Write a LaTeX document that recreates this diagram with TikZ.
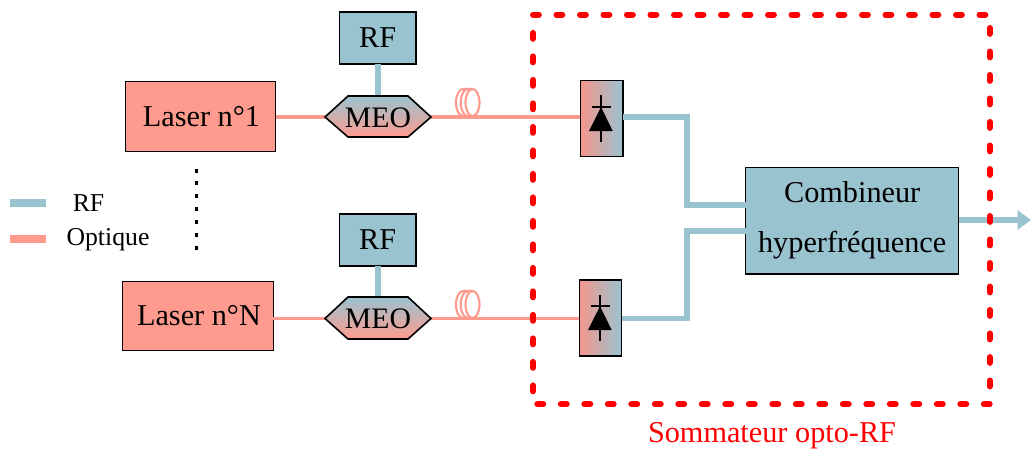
\documentclass[tikz,border=0pt]{standalone}
\usepackage{fontspec}
\setmainfont{Liberation Serif}
\usetikzlibrary{arrows.meta}
\definecolor{rfblue}{HTML}{9AC3D0}
\definecolor{optpink}{HTML}{FF9B8E}
\definecolor{grpink}{HTML}{F4968C}
\tikzset{
  x=0.75pt,y=-0.75pt,
  every node/.style={inner sep=0pt,outer sep=0pt},
  boxsty/.style={draw=black,line width=0.9pt,rectangle,text=black,font=\fontsize{22.7}{27}\selectfont},
  laserbox/.style={boxsty,fill=optpink,minimum width=113pt,minimum height=52pt},
  rfbox/.style={boxsty,fill=rfblue,minimum width=57.5pt,minimum height=39pt},
  combbox/.style={boxsty,fill=rfblue,minimum width=159.5pt,minimum height=80pt,align=center,font=\fontsize{22.7}{37.5}\selectfont},
  pdbox/.style={draw=black,line width=0.9pt,rectangle,left color=grpink,right color=rfblue,minimum width=32pt,minimum height=57pt},
  rfline/.style={draw=rfblue,line width=4pt},
  optline/.style={draw=optpink,line width=2.4pt},
  hexsty/.style={draw=black,line width=1.2pt,top color=rfblue,bottom color=optpink,middle color=rfblue!50!optpink,shading angle=0},
  meotext/.style={font=\fontsize{22.3}{26}\selectfont},
  coil/.style={draw=optpink,line width=1.6pt},
  diodeline/.style={draw=black,line width=1.3pt},
  legendtext/.style={font=\fontsize{19.3}{23}\selectfont},
  redside/.style={draw=red,line width=4.5pt,line cap=round,dash pattern=on 4.4pt off 13.225pt},
}
\begin{document}
\begin{tikzpicture}
\useasboundingbox (0,0) rectangle (1031,453);
% coordinates
\coordinate (m1w) at (325,117); \coordinate (m1e) at (431,117);
\coordinate (m2w) at (325,318.5); \coordinate (m2e) at (431,318.5);
\coordinate (m1t) at (378,96);  \coordinate (m2t) at (378,297);
\coordinate (out) at (1031,220);
\coordinate (lb1) at (10,203); \coordinate (lb2) at (46,203);
\coordinate (lo1) at (10,239.3); \coordinate (lo2) at (46,239.3);
\coordinate (dt) at (196.7,168.5); \coordinate (db) at (196.7,251);
% nodes
\node[laserbox] (l1) at (200.5,116.5) {\kern1.5pt Laser n°1};
\node[laserbox] (l2) at (198,316) {\kern1.5pt Laser n°N};
\node[rfbox] (rf1) at (377.7,38) {RF};
\node[rfbox] (rf2) at (377.7,240) {RF};
\node[pdbox] (d1) at (601.7,118.3) {};
\node[pdbox] (d2) at (600.5,318) {};
\node[combbox] (c) at (852.2,220.7) {Combineur\\hyperfréquence};
% connectors
\draw[optline] (l1.east |- m1w) -- (m1w);
\draw[optline] (l2.east |- m2w) -- (m2w);
\draw[optline] (m1e) -- (d1.west |- m1e);
\draw[optline] (m2e) -- (d2.west |- m2e);
\draw[rfline] (rf1.south -| m1t) -- (m1t);
\draw[rfline] (rf2.south -| m2t) -- (m2t);
\draw[rfline,line join=miter] (d1.east |- m1e) -- (687,117) -- (687,205) -- (c.west |- 0,205);
\draw[rfline,line join=miter] (d2.east |- m2e) -- (687,318.5) -- (687,231) -- (c.west |- 0,231);
\draw[rfline,-{Triangle[length=10pt,width=14pt]}] (c.east |- out) -- (out);
% MEO
\shade[hexsty] (m1w) -- (348,96) -- (408,96) -- (m1e) -- (408,137) -- (348,137) -- cycle;
\shade[hexsty] (m2w) -- (348,297) -- (408,297) -- (m2e) -- (408,339) -- (348,339) -- cycle;
\node[meotext] (meo1) at (378,117.5) {MEO};
\node[meotext] (meo2) at (378,319) {MEO};
% fibre coils
\foreach \cy in {102.5,304.5}{
  \draw[coil] (472.5,\cy) ellipse [x radius=7,y radius=13.5];
  \foreach \cx in {463,467.7}{
    \draw[coil] (472.5,\cy+13.5) -- (\cx,\cy+13.5) arc [start angle=90,end angle=270,x radius=7,y radius=13.5] -- (472.5,\cy-13.5);
  }
}
% diodes
\draw[diodeline] (601,95) -- (601,142);
\draw[diodeline] (591.7,107) -- (610.7,107);
\fill[black] (601,107) -- (612.7,131) -- (589,131) -- cycle;
\draw[diodeline] (600,295) -- (600,341);
\draw[diodeline] (590.5,306.3) -- (609.5,306.3);
\fill[black] (600,306.3) -- (611.7,330) -- (588,330) -- cycle;
% dashed box, side by side
\draw[redside] (533,14.7) -- (990,14.7);
\draw[redside] (989.7,28) -- (989.7,392);
\draw[redside] (989.7,404.3) -- (536,404.3);
\draw[redside] (533,391.3) -- (533,32);
% dots
\draw[black,line width=2.2pt,dash pattern=on 3pt off 6.68pt] (dt) -- (db);
% legend
\draw[draw=rfblue,line width=5.8pt] (lb1) -- (lb2);
\draw[draw=optpink,line width=5.8pt] (lo1) -- (lo2);
\node[legendtext] (lgrf) at (88.5,203) {RF};
\node[legendtext] (lgop) at (108,239.5) {Optique};
\node[font=\fontsize{22.7}{27}\selectfont,text=red] (title) at (772,436) {Sommateur opto-RF};
\end{tikzpicture}
\end{document}
